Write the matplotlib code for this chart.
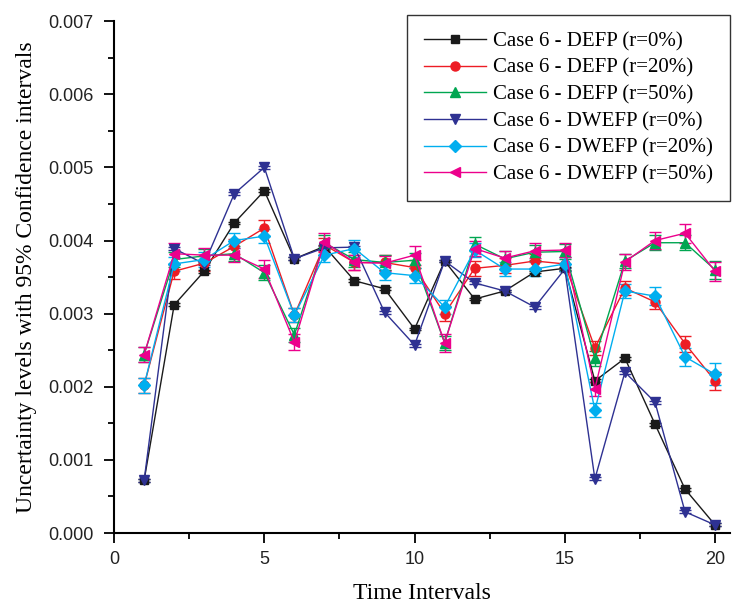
import numpy as np
import matplotlib.pyplot as plt
from matplotlib.ticker import MultipleLocator, FormatStrFormatter

# time intervals 1..20
t = list(range(1, 21))

# Case 6 - DEFP
defp_r0 = [0.00072, 0.00312, 0.00358, 0.00424, 0.00468, 0.00375, 0.00392, 0.00345, 0.00334, 0.00279,
           0.00372, 0.00320, 0.00331, 0.00357, 0.00362, 0.00208, 0.00239, 0.00149, 0.00060, 0.00011]
defp_r20 = [0.00202, 0.00358, 0.00369, 0.00392, 0.00417, 0.00298, 0.00394, 0.00370, 0.00370, 0.00363,
            0.00300, 0.00362, 0.00366, 0.00372, 0.00368, 0.00253, 0.00335, 0.00316, 0.00259, 0.00208]
defp_r50 = [0.00244, 0.00374, 0.00379, 0.00382, 0.00356, 0.00271, 0.00397, 0.00374, 0.00370, 0.00373,
            0.00260, 0.00395, 0.00375, 0.00384, 0.00385, 0.00239, 0.00372, 0.00397, 0.00397, 0.00360]
# Case 6 - DWEFP
dwefp_r0 = [0.00072, 0.00389, 0.00368, 0.00464, 0.00500, 0.00375, 0.00390, 0.00391, 0.00302, 0.00257,
            0.00372, 0.00342, 0.00331, 0.00309, 0.00361, 0.00074, 0.00220, 0.00179, 0.00029, 0.00011]
dwefp_r20 = [0.00202, 0.00368, 0.00374, 0.00400, 0.00406, 0.00298, 0.00380, 0.00389, 0.00356, 0.00352,
             0.00309, 0.00387, 0.00361, 0.00361, 0.00368, 0.00168, 0.00331, 0.00324, 0.00241, 0.00217]
dwefp_r50 = [0.00244, 0.00382, 0.00380, 0.00380, 0.00361, 0.00261, 0.00398, 0.00370, 0.00369, 0.00380,
             0.00260, 0.00389, 0.00376, 0.00386, 0.00387, 0.00197, 0.00371, 0.00400, 0.00410, 0.00358]

# half widths of the 95% confidence intervals
err_r0 = [0.00002] * 20
err_defp_r20 = [0.00010, 0.00010, 0.00010, 0.00010, 0.00011, 0.00010, 0.00010, 0.00010, 0.00010, 0.00011,
                0.00010, 0.00010, 0.00010, 0.00010, 0.00010, 0.00010, 0.00010, 0.00010, 0.00011, 0.00012]
err_defp_r50 = [0.00010, 0.00010, 0.00010, 0.00010, 0.00010, 0.00010, 0.00010, 0.00010, 0.00010, 0.00010,
                0.00010, 0.00010, 0.00010, 0.00010, 0.00010, 0.00010, 0.00010, 0.00010, 0.00010, 0.00012]
err_dwefp_r20 = [0.00010, 0.00010, 0.00010, 0.00010, 0.00010, 0.00010, 0.00010, 0.00012, 0.00010, 0.00010,
                 0.00010, 0.00010, 0.00010, 0.00010, 0.00010, 0.00010, 0.00010, 0.00012, 0.00012, 0.00015]
err_dwefp_r50 = [0.00010, 0.00014, 0.00010, 0.00010, 0.00012, 0.00011, 0.00012, 0.00010, 0.00010, 0.00013,
                 0.00012, 0.00010, 0.00010, 0.00010, 0.00010, 0.00010, 0.00011, 0.00012, 0.00013, 0.00013]

labels = ['Case 6 - DEFP (r=0%)', 'Case 6 - DEFP (r=20%)', 'Case 6 - DEFP (r=50%)',
          'Case 6 - DWEFP (r=0%)', 'Case 6 - DWEFP (r=20%)', 'Case 6 - DWEFP (r=50%)']
series = [defp_r0, defp_r20, defp_r50, dwefp_r0, dwefp_r20, dwefp_r50]
errors = [err_r0, err_defp_r20, err_defp_r50, err_r0, err_dwefp_r20, err_dwefp_r50]
colors = ['#1a1a1a', '#ed1c24', '#00a651', '#2e3192', '#00aeef', '#ec008c']
markers = ['s', 'o', '^', 'v', 'D', '<']
msizes = [6, 6.5, 7, 7, 6, 7]

fig = plt.figure(figsize=(7.36, 6.05), dpi=100)
ax = fig.add_axes([0.155, 0.119, 0.837, 0.846])

for y, e, c, m, ms, lab in zip(series, errors, colors, markers, msizes, labels):
    ax.errorbar(t, y, yerr=e, color=c, marker=m, markersize=ms, linewidth=1.0,
                elinewidth=1.0, capsize=4, capthick=1.0, ecolor=c, label=lab)

ax.set_xlim(0, 20.5)
ax.set_ylim(0, 0.007)
ax.xaxis.set_major_locator(MultipleLocator(5))
ax.xaxis.set_minor_locator(MultipleLocator(2.5))
ax.yaxis.set_major_locator(MultipleLocator(0.001))
ax.yaxis.set_minor_locator(MultipleLocator(0.0005))
ax.yaxis.set_major_formatter(FormatStrFormatter('%.3f'))

ax.spines['top'].set_visible(False)
ax.spines['right'].set_visible(False)
ax.spines['left'].set_linewidth(1.5)
ax.spines['bottom'].set_linewidth(1.5)
ax.tick_params(which='major', direction='out', length=7, width=1.3)
ax.tick_params(which='minor', direction='out', length=4, width=1.3)
ax.tick_params(axis='y', which='major', pad=8)
ax.tick_params(axis='x', which='major', pad=6)
for lbl in ax.get_xticklabels() + ax.get_yticklabels():
    lbl.set_fontfamily('Liberation Sans')
    lbl.set_fontsize(13)
    lbl.set_color('#222222')

ax.set_xlabel('Time Intervals', family='Liberation Serif', fontsize=17, labelpad=11)
ax.set_ylabel('Uncertainty levels with 95% Confidence intervals', family='Liberation Serif', fontsize=17, labelpad=8)

handles, labs = ax.get_legend_handles_labels()
handles = [h[0] for h in handles]
leg = ax.legend(handles, labs, loc='upper right', prop={'family': 'Liberation Serif', 'size': 15},
                frameon=True, fancybox=False, edgecolor='black', handlelength=3.0, handletextpad=0.35,
                borderpad=0.8, labelspacing=0.34, borderaxespad=0, bbox_to_anchor=(1.0, 1.012))
leg.get_frame().set_linewidth(1.0)

fig.savefig('out.png', dpi=100)
